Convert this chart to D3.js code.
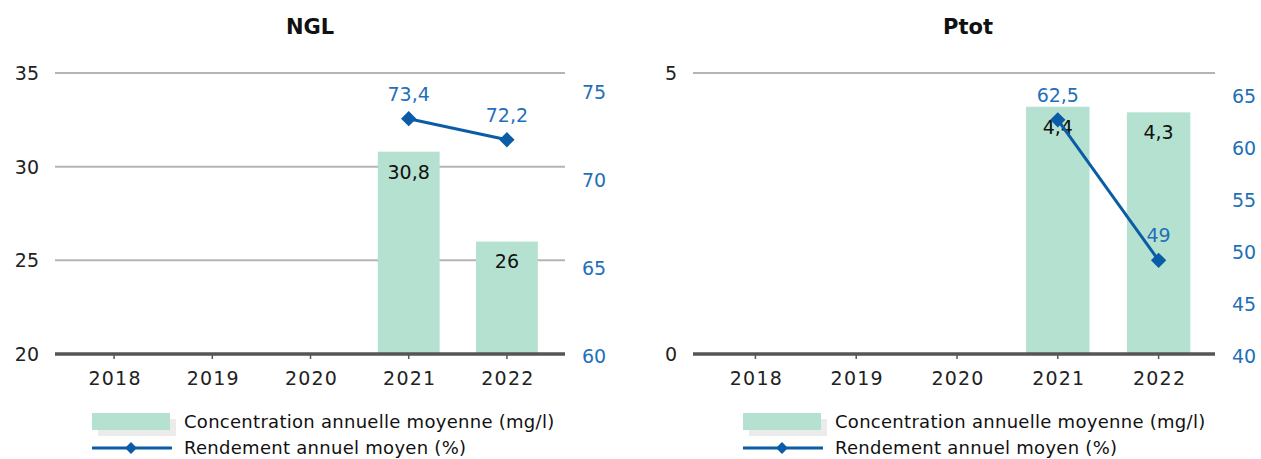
<!DOCTYPE html>
<html>
<head>
<meta charset="utf-8">
<script src="https://cdn.jsdelivr.net/npm/d3@7"></script>
<style>
  body { margin: 0; background: #fff; }
  text { font-family: "DejaVu Sans", Verdana, sans-serif; }
</style>
</head>
<body>
<div id="chart"></div>
<script>
var svgWidth = 1261;
var svgHeight = 459;

// data
var years = ["2018", "2019", "2020", "2021", "2022"];
var nglConc = [null, null, null, 30.8, 26];
var nglRend = [null, null, null, 73.4, 72.2];
var ptotConc = [null, null, null, 4.4, 4.3];
var ptotRend = [null, null, null, 62.5, 49];
var nglLeftTicks = [20, 25, 30, 35];
var nglRightTicks = [60, 65, 70, 75];
var ptotLeftTicks = [0, 5];
var ptotRightTicks = [40, 45, 50, 55, 60, 65];
var legendLabels = ["Concentration annuelle moyenne (mg/l)", "Rendement annuel moyen (%)"];

var barColor = "#b5e1d1";
var lineColor = "#0b5ca6";
var blueText = "#1f70b8";

var svg = d3.select("#chart")
  .append("svg")
  .attr("width", svgWidth)
  .attr("height", svgHeight);

var panels = [
  { title: "NGL", cx: 310, axis: [55, 565], band: [65, 556],
    left: [20, 35], right: [60, 76], lt: nglLeftTicks, rt: nglRightTicks,
    conc: nglConc, rend: nglRend, legendX: 92 },
  { title: "Ptot", cx: 968, axis: [693, 1215], band: [705, 1209],
    left: [0, 5], right: [40, 67], lt: ptotLeftTicks, rt: ptotRightTicks,
    conc: ptotConc, rend: ptotRend, legendX: 743 }
];

var plotTop = 73, plotBottom = 354;

function fmt(v) {
  return String(v).replace(".", ",");
}

panels.forEach(function(p) {
  var g = svg.append("g");

  var x = d3.scaleBand().domain(years).range(p.band).paddingInner(0.37).paddingOuter(0.185);
  var xc = d => x(d) + x.bandwidth() / 2;
  var y = d3.scaleLinear().domain(p.left).range([plotBottom, plotTop]);
  var y2 = d3.scaleLinear().domain(p.right).range([plotBottom, plotTop]);

  // title
  g.append("text")
    .attr("x", p.cx).attr("y", 34)
    .attr("text-anchor", "middle")
    .style("font-size", "21px").style("font-weight", "bold")
    .attr("fill", "#111")
    .text(p.title);

  // gridlines
  g.selectAll(".grid")
    .data(p.lt.filter(t => t !== p.left[0]))
    .enter().append("line")
    .attr("x1", p.axis[0]).attr("x2", p.axis[1])
    .attr("y1", d => y(d)).attr("y2", d => y(d))
    .attr("stroke", "#b4b4b4").attr("stroke-width", 2);

  // left tick labels
  g.selectAll(".ltk")
    .data(p.lt)
    .enter().append("text")
    .attr("x", p.axis[0] - 16).attr("y", d => y(d))
    .attr("dy", "0.36em")
    .attr("text-anchor", "end")
    .style("font-size", "19px")
    .attr("fill", "#222")
    .text(d => d);

  // right tick labels
  g.selectAll(".rtk")
    .data(p.rt)
    .enter().append("text")
    .attr("x", p.axis[1] + 17).attr("y", d => y2(d) + 2)
    .attr("dy", "0.36em")
    .attr("text-anchor", "start")
    .style("font-size", "19px")
    .attr("fill", blueText)
    .text(d => d);

  // bars
  var barData = years.map((yr, i) => ({ yr: yr, v: p.conc[i] })).filter(d => d.v != null);
  g.selectAll(".bar")
    .data(barData)
    .enter().append("rect")
    .attr("x", d => x(d.yr))
    .attr("width", x.bandwidth())
    .attr("y", d => y(d.v))
    .attr("height", d => plotBottom - y(d.v))
    .attr("fill", barColor);

  // bottom axis
  g.append("line")
    .attr("x1", p.axis[0]).attr("x2", p.axis[1])
    .attr("y1", plotBottom).attr("y2", plotBottom)
    .attr("stroke", "#555").attr("stroke-width", 3.5);

  g.selectAll(".tick")
    .data(years)
    .enter().append("line")
    .attr("x1", d => xc(d)).attr("x2", d => xc(d))
    .attr("y1", plotBottom).attr("y2", plotBottom + 5)
    .attr("stroke", "#555").attr("stroke-width", 1.5);

  g.selectAll(".year")
    .data(years)
    .enter().append("text")
    .attr("x", d => xc(d) + 1).attr("y", 378)
    .attr("dy", "0.36em")
    .attr("text-anchor", "middle")
    .style("font-size", "19px").style("letter-spacing", "1.2px")
    .attr("fill", "#222")
    .text(d => d);

  // bar value labels
  g.selectAll(".bv")
    .data(barData)
    .enter().append("text")
    .attr("x", d => xc(d.yr)).attr("y", d => y(d.v) + 20)
    .attr("dy", "0.36em")
    .attr("text-anchor", "middle")
    .style("font-size", "19px")
    .attr("fill", "#111")
    .text(d => fmt(d.v));

  // line
  var lineData = years.map((yr, i) => ({ yr: yr, v: p.rend[i] })).filter(d => d.v != null);
  var line = d3.line().x(d => xc(d.yr)).y(d => y2(d.v));
  g.append("path")
    .datum(lineData)
    .attr("d", line)
    .attr("fill", "none")
    .attr("stroke", lineColor)
    .attr("stroke-width", 3);

  g.selectAll(".pt")
    .data(lineData)
    .enter().append("path")
    .attr("d", d3.symbol().type(d3.symbolDiamond2).size(150))
    .attr("transform", d => `translate(${xc(d.yr)},${y2(d.v)})`)
    .attr("fill", lineColor);

  g.selectAll(".lv")
    .data(lineData)
    .enter().append("text")
    .attr("x", d => xc(d.yr)).attr("y", d => y2(d.v) - 25)
    .attr("dy", "0.36em")
    .attr("text-anchor", "middle")
    .style("font-size", "19px")
    .attr("fill", blueText)
    .text(d => fmt(d.v));

  // legend
  var lg = g.append("g").attr("transform", `translate(${p.legendX}, 413)`);
  lg.append("rect").attr("x", 6).attr("y", 6).attr("width", 78).attr("height", 17).attr("fill", "#ebebeb");
  lg.append("rect").attr("x", 0).attr("y", 0).attr("width", 78).attr("height", 17).attr("fill", barColor);
  lg.append("line")
    .attr("x1", 0).attr("x2", 80).attr("y1", 35).attr("y2", 35)
    .attr("stroke", lineColor).attr("stroke-width", 3);
  lg.append("path")
    .attr("d", d3.symbol().type(d3.symbolDiamond2).size(90))
    .attr("transform", "translate(39,35)")
    .attr("fill", lineColor);
  lg.selectAll(".lgt")
    .data(legendLabels)
    .enter().append("text")
    .attr("x", 92).attr("y", (d, i) => 9 + i * 26)
    .attr("dy", "0.36em")
    .style("font-size", "18px").style("letter-spacing", "0.28px")
    .attr("fill", "#111")
    .text(d => d);
});
</script>
</body>
</html>
